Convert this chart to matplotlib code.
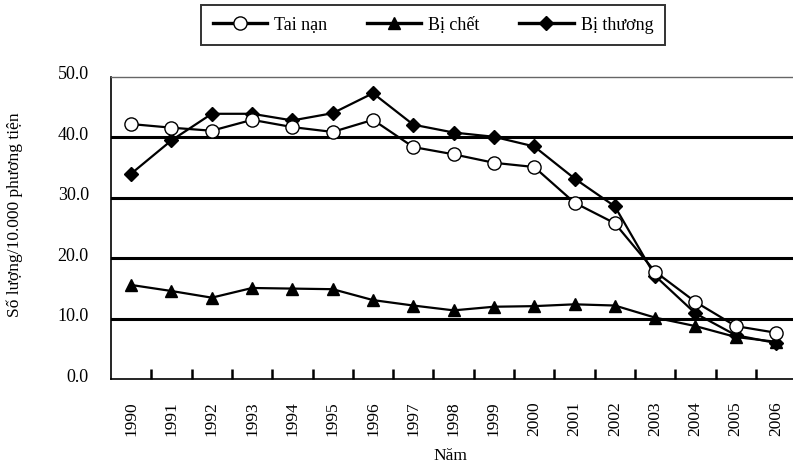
import matplotlib
matplotlib.use("Agg")
import matplotlib.pyplot as plt
import matplotlib.transforms as mtransforms
import numpy as np

years = [str(y) for y in range(1990, 2007)]
tai_nan = [42.2, 41.6, 41.1, 42.9, 41.7, 40.9, 42.9, 38.4, 37.2, 35.8, 35.1,
           29.2, 25.8, 17.8, 12.8, 8.8, 7.7]
bi_chet = [15.6, 14.6, 13.5, 15.1, 15.0, 14.9, 13.1, 12.2, 11.4, 12.0, 12.1,
           12.4, 12.2, 10.2, 8.8, 7.0, 6.2]
bi_thuong = [34.0, 39.5, 43.9, 43.9, 42.8, 44.0, 47.3, 42.1, 40.8, 40.1, 38.5,
             33.2, 28.6, 17.1, 10.9, 7.3, 6.0]

plt.rcParams['font.family'] = ['Liberation Serif', 'DejaVu Serif']
fs = 13

fig = plt.figure(figsize=(7.93, 4.66), dpi=100)
ax = fig.add_axes([0.14, 0.186, 0.864, 0.649])

x = np.arange(len(years))
ax.plot(x, tai_nan, '-o', color='black', lw=1.6, ms=9.5, mfc='white',
        mec='black', mew=1.0, label='Tai nạn', zorder=4)
ax.plot(x, bi_chet, '-^', color='black', lw=1.6, ms=9, label='Bị chết', zorder=3)
ax.plot(x, bi_thuong, '-D', color='black', lw=1.6, ms=7.5, label='Bị thương', zorder=3)

ax.set_xlim(-0.5, 16.5)
ax.set_ylim(0, 50)
ax.set_yticks([0, 10, 20, 30, 40, 50])
ax.set_yticklabels(['%.1f' % v for v in [0, 10, 20, 30, 40, 50]], fontsize=fs)
ax.tick_params(axis='y', length=0, pad=16)
# labels sit a little above their lines
shift = mtransforms.ScaledTranslation(0, 4 / 100, fig.dpi_scale_trans)
for lbl in ax.get_yticklabels():
    lbl.set_transform(lbl.get_transform() + shift)
for v in [10, 20, 30, 40]:
    ax.axhline(v, color='black', lw=2.2, zorder=1)

ax.set_xticks(x)
ax.set_xticklabels(years, rotation=90, fontsize=12.5)
ax.tick_params(axis='x', which='major', length=0, pad=16)
ax.set_xticks(np.arange(0.5, 16.5, 1), minor=True)
ax.tick_params(axis='x', which='minor', direction='in', length=7, width=1.8)

ax.spines['top'].set_color('#666666')
ax.spines['top'].set_linewidth(1.0)
ax.spines['right'].set_visible(False)
ax.spines['left'].set_linewidth(1.2)
ax.spines['bottom'].set_linewidth(1.2)

ax.set_xlabel('Năm', fontsize=12.5)
ax.xaxis.set_label_coords(0.495, -0.228)
ax.set_ylabel('Số lượng/10.000 phương tiện', fontsize=12.5)
ax.yaxis.set_label_coords(-0.128, 0.546)

leg = ax.legend(loc='upper center', bbox_to_anchor=(0.47, 1.238), ncol=3,
                frameon=True, fancybox=False, edgecolor='black', fontsize=fs,
                handlelength=3.0, columnspacing=2.2, handletextpad=0.4,
                borderpad=0.65, borderaxespad=0)
leg.get_frame().set_linewidth(1.4)
for h in leg.get_lines():
    h.set_linewidth(2.4)

fig.savefig('out.png', dpi=100)
